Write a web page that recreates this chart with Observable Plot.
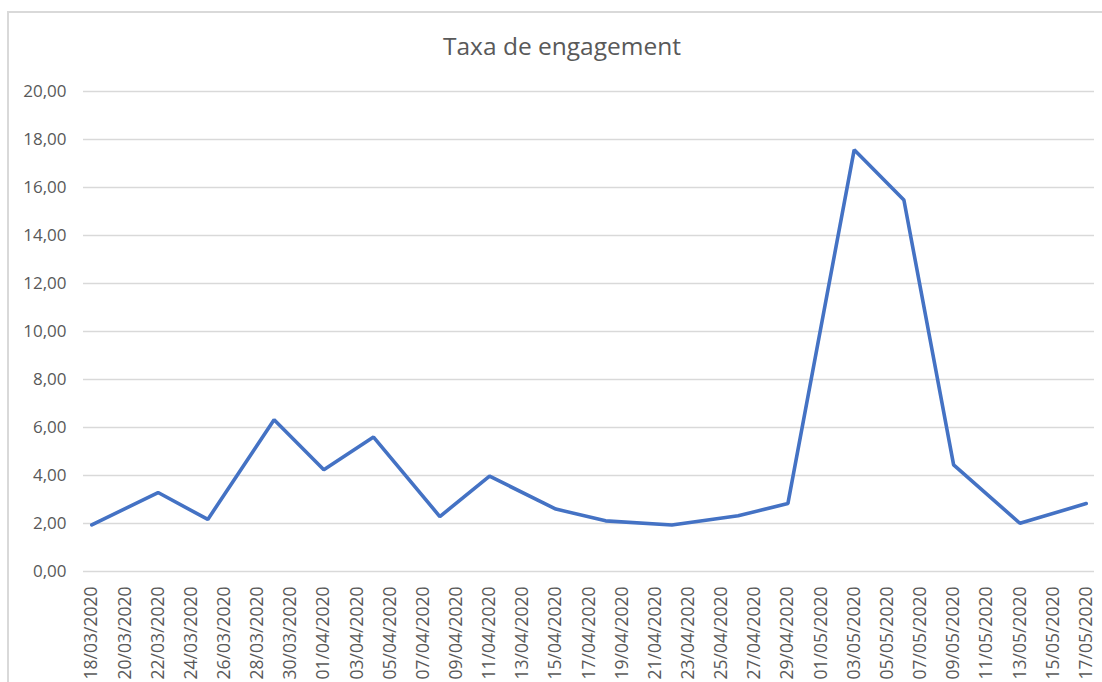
<!DOCTYPE html>
<html>
<head>
<meta charset="utf-8">
<script src="https://cdn.jsdelivr.net/npm/d3@7"></script>
<script src="https://cdn.jsdelivr.net/npm/@observablehq/plot@0.6"></script>
<style>
  html, body { margin: 0; padding: 0; background: #fff; overflow: hidden; }
  #page { position: relative; width: 1102px; height: 682px; overflow: hidden; font-family: "Open Sans", sans-serif; }
  #frame { position: absolute; left: 7px; top: 11px; width: 1200px; height: 800px; border: 2px solid #d9d9d9; box-sizing: border-box; }
  #title { position: absolute; left: 0; width: 1124px; top: 26px; text-align: center; font-size: 24.5px; color: #595959; line-height: 40px; }
  #chart { position: absolute; left: 0; top: 0; }
</style>
</head>
<body>
<div id="page">
  <div id="frame"></div>
  <div id="chart"></div>
  <div id="title">Taxa de engagement</div>
</div>
<script>
// Data
const dates = ["18/03/2020","22/03/2020","25/03/2020","29/03/2020","01/04/2020","04/04/2020","08/04/2020","11/04/2020","15/04/2020","18/04/2020","22/04/2020","26/04/2020","29/04/2020","03/05/2020","06/05/2020","09/05/2020","13/05/2020","17/05/2020"];
const values = [1.94, 3.29, 2.17, 6.32, 4.24, 5.6, 2.29, 3.97, 2.6, 2.11, 1.94, 2.32, 2.83, 17.57, 15.48, 4.44, 2.01, 2.83];

const xTickLabels = ["18/03/2020","20/03/2020","22/03/2020","24/03/2020","26/03/2020","28/03/2020","30/03/2020","01/04/2020","03/04/2020","05/04/2020","07/04/2020","09/04/2020","11/04/2020","13/04/2020","15/04/2020","17/04/2020","19/04/2020","21/04/2020","23/04/2020","25/04/2020","27/04/2020","29/04/2020","01/05/2020","03/05/2020","05/05/2020","07/05/2020","09/05/2020","11/05/2020","13/05/2020","15/05/2020","17/05/2020"];
const yTicks = [0, 2, 4, 6, 8, 10, 12, 14, 16, 18, 20];

const parse = d3.utcParse("%d/%m/%Y");
const fmt = d3.utcFormat("%d/%m/%Y");
const data = dates.map((d, i) => ({date: parse(d), value: values[i]}));
const xTicks = xTickLabels.map(parse);

const halfDay = 12 * 3600 * 1000;
const xDomain = [new Date(+parse(xTickLabels[0]) - halfDay), new Date(+parse(xTickLabels[xTickLabels.length - 1]) + halfDay)];

const chart = Plot.plot({
  width: 1102,
  height: 682,
  marginLeft: 83,
  marginRight: 8,
  marginTop: 91,
  marginBottom: 111,
  style: {fontFamily: "Open Sans, sans-serif", fontSize: "17px", color: "#595959", background: "transparent", overflow: "visible"},
  x: {type: "utc", domain: xDomain, axis: null},
  y: {domain: [0, 20], axis: null},
  marks: [
    Plot.ruleY(yTicks, {stroke: "#d9d9d9", strokeWidth: 1.3}),
    Plot.axisY({ticks: yTicks, label: null, tickSize: 0, tickPadding: 17, tickFormat: d => d3.format(".2f")(d).replace(".", ","), fill: "#595959", fontSize: 17}),
    Plot.axisX({ticks: xTicks, label: null, tickSize: 0, tickPadding: 15, tickRotate: -90, tickFormat: fmt, fill: "#595959", fontSize: 17.5}),
    Plot.line(data, {x: "date", y: "value", stroke: "#4472C4", strokeWidth: 3.6, strokeLinejoin: "miter", strokeLinecap: "round"})
  ]
});
document.getElementById("chart").appendChild(chart);
</script>
</body>
</html>
